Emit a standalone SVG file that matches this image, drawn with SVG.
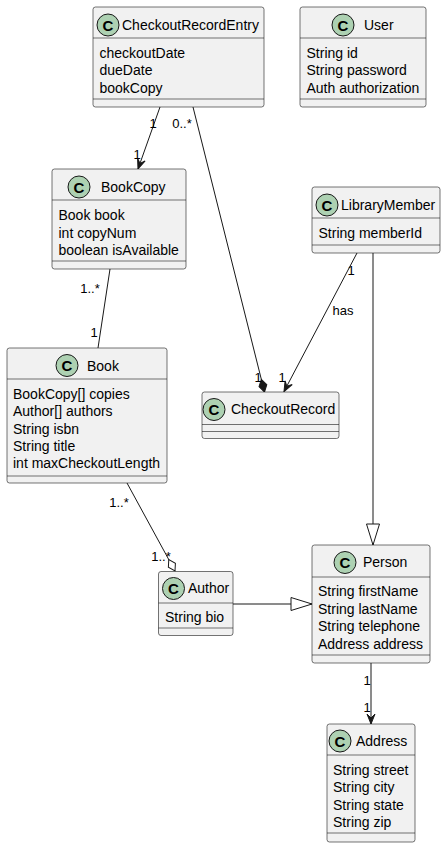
<svg xmlns="http://www.w3.org/2000/svg" width="445" height="849" viewBox="0 0 445 849">
<style>
.box{fill:#F1F1F1;stroke:#181818;stroke-width:0.6}
.div{stroke:#181818;stroke-width:0.6}
.ci{fill:#ADD1B2;stroke:#181818;stroke-width:1}
.cl{font-family:"Liberation Sans",Arial,sans-serif;font-size:15px;font-weight:bold;fill:#000;text-anchor:middle}
.t{font-family:"Liberation Sans",Arial,sans-serif;font-size:14px;fill:#000}
.lb{font-family:"Liberation Sans",Arial,sans-serif;font-size:13px;fill:#000;text-anchor:middle}
.ln{fill:none;stroke:#181818;stroke-width:1}
</style>
<defs>
<marker id="arr" markerUnits="userSpaceOnUse" orient="auto" overflow="visible" markerWidth="12" markerHeight="10" refX="0" refY="0">
<polygon points="0,0 -10,-4 -6,0 -10,4" fill="#181818" stroke="#181818" stroke-width="1"/>
</marker>
<marker id="tri" markerUnits="userSpaceOnUse" orient="auto" overflow="visible" markerWidth="22" markerHeight="14" refX="0" refY="0">
<polygon points="0,0 -21,-6.5 -21,6.5" fill="#FFFFFF" stroke="#181818" stroke-width="1"/>
</marker>
<marker id="dia" markerUnits="userSpaceOnUse" orient="auto" overflow="visible" markerWidth="14" markerHeight="10" refX="0" refY="0">
<polygon points="0,0 -6.5,-4 -13,0 -6.5,4" fill="#181818" stroke="#181818" stroke-width="1"/>
</marker>
<marker id="odia" markerUnits="userSpaceOnUse" orient="auto" overflow="visible" markerWidth="14" markerHeight="10" refX="0" refY="0">
<polygon points="0,0 -6.5,-4 -13,0 -6.5,4" fill="#FFFFFF" stroke="#181818" stroke-width="1"/>
</marker>
</defs>

<g id="connectors">
<path class="ln" d="M160,107 L138,169" marker-end="url(#arr)"/>
<path class="ln" d="M193,107 L264.5,392" marker-end="url(#dia)"/>
<path class="ln" d="M357,253 L284,391.5" marker-end="url(#arr)"/>
<path class="ln" d="M373,253 L373,545" marker-end="url(#tri)"/>
<path class="ln" d="M110,269 L98,348"/>
<path class="ln" d="M127,483 L175,571" marker-end="url(#odia)"/>
<path class="ln" d="M233,604 L312,604" marker-end="url(#tri)"/>
<path class="ln" d="M371,663 L371,724" marker-end="url(#arr)"/>
<text class="lb" x="153" y="127.5">1</text>
<text class="lb" x="182" y="127.5">0..*</text>
<text class="lb" x="137" y="158.5">1</text>
<text class="lb" x="90" y="292.5">1..*</text>
<text class="lb" x="94" y="336.5">1</text>
<text class="lb" x="258" y="381.5">1</text>
<text class="lb" x="282" y="381.5">1</text>
<text class="lb" x="351" y="274.5">1</text>
<text class="lb" x="343" y="314.5">has</text>
<text class="lb" x="119" y="506.5">1..*</text>
<text class="lb" x="161" y="560.5">1..*</text>
<text class="lb" x="367" y="684.5">1</text>
<text class="lb" x="367" y="711.5">1</text>
</g>

<g id="CheckoutRecordEntry">
<rect class="box" x="93" y="7" width="171" height="100" rx="2.5"/>
<line class="div" x1="93" y1="38" x2="264" y2="38"/>
<line class="div" x1="93" y1="99" x2="264" y2="99"/>
<circle class="ci" cx="108" cy="25" r="11"/>
<text class="cl" x="108" y="30.5">C</text>
<text class="t" x="122" y="29.5">CheckoutRecordEntry</text>
<text class="t" x="99.5" y="57.5">checkoutDate</text>
<text class="t" x="99.5" y="75">dueDate</text>
<text class="t" x="99.5" y="92.5">bookCopy</text>
</g>

<g id="User">
<rect class="box" x="300" y="7" width="126" height="100" rx="2.5"/>
<line class="div" x1="300" y1="38" x2="426" y2="38"/>
<line class="div" x1="300" y1="99" x2="426" y2="99"/>
<circle class="ci" cx="343" cy="25" r="11"/>
<text class="cl" x="343" y="30.5">C</text>
<text class="t" x="364" y="29.5">User</text>
<text class="t" x="306.5" y="57.5">String id</text>
<text class="t" x="306.5" y="75">String password</text>
<text class="t" x="306.5" y="92.5">Auth authorization</text>
</g>

<g id="BookCopy">
<rect class="box" x="52" y="169" width="134" height="100" rx="2.5"/>
<line class="div" x1="52" y1="200" x2="186" y2="200"/>
<line class="div" x1="52" y1="261" x2="186" y2="261"/>
<circle class="ci" cx="79" cy="187" r="11"/>
<text class="cl" x="79" y="192.5">C</text>
<text class="t" x="101" y="191.5">BookCopy</text>
<text class="t" x="58.5" y="220">Book book</text>
<text class="t" x="58.5" y="237.5">int copyNum</text>
<text class="t" x="58.5" y="255">boolean isAvailable</text>
</g>

<g id="Book">
<rect class="box" x="7" y="348" width="160" height="135" rx="2.5"/>
<line class="div" x1="7" y1="379" x2="167" y2="379"/>
<line class="div" x1="7" y1="476" x2="167" y2="476"/>
<circle class="ci" cx="67" cy="365.5" r="11"/>
<text class="cl" x="67" y="371">C</text>
<text class="t" x="87" y="370.5">Book</text>
<text class="t" x="13" y="399">BookCopy[] copies</text>
<text class="t" x="13" y="416.3">Author[] authors</text>
<text class="t" x="13" y="433.6">String isbn</text>
<text class="t" x="13" y="450.9">String title</text>
<text class="t" x="13" y="468.2">int maxCheckoutLength</text>
</g>

<g id="LibraryMember">
<rect class="box" x="312" y="187" width="128" height="66" rx="2.5"/>
<line class="div" x1="312" y1="218" x2="440" y2="218"/>
<line class="div" x1="312" y1="245" x2="440" y2="245"/>
<circle class="ci" cx="327" cy="205" r="11"/>
<text class="cl" x="327" y="210.5">C</text>
<text class="t" x="341" y="209.5">LibraryMember</text>
<text class="t" x="318.5" y="237.5">String memberId</text>
</g>

<g id="CheckoutRecord">
<rect class="box" x="202" y="392" width="137" height="46.5" rx="2.5"/>
<line class="div" x1="202" y1="424.5" x2="339" y2="424.5"/>
<line class="div" x1="202" y1="431.5" x2="339" y2="431.5"/>
<circle class="ci" cx="214" cy="409.5" r="11"/>
<text class="cl" x="214" y="415">C</text>
<text class="t" x="231" y="413.5">CheckoutRecord</text>
</g>

<g id="Person">
<rect class="box" x="312" y="545" width="118" height="118" rx="2.5"/>
<line class="div" x1="312" y1="577" x2="430" y2="577"/>
<line class="div" x1="312" y1="655" x2="430" y2="655"/>
<circle class="ci" cx="345" cy="562.5" r="11"/>
<text class="cl" x="345" y="568">C</text>
<text class="t" x="363" y="567">Person</text>
<text class="t" x="318" y="596">String firstName</text>
<text class="t" x="318" y="613.5">String lastName</text>
<text class="t" x="318" y="631">String telephone</text>
<text class="t" x="318" y="648.5">Address address</text>
</g>

<g id="Author">
<rect class="box" x="158.5" y="571.5" width="74.5" height="64" rx="2.5"/>
<line class="div" x1="158.5" y1="603" x2="233" y2="603"/>
<line class="div" x1="158.5" y1="628" x2="233" y2="628"/>
<circle class="ci" cx="173.5" cy="588.5" r="11"/>
<text class="cl" x="173.5" y="594">C</text>
<text class="t" x="188" y="593">Author</text>
<text class="t" x="165" y="622">String bio</text>
</g>

<g id="Address">
<rect class="box" x="327" y="724" width="88" height="118" rx="2.5"/>
<line class="div" x1="327" y1="755" x2="415" y2="755"/>
<line class="div" x1="327" y1="833" x2="415" y2="833"/>
<circle class="ci" cx="340" cy="741" r="11"/>
<text class="cl" x="340" y="746.5">C</text>
<text class="t" x="356" y="746">Address</text>
<text class="t" x="333" y="774.5">String street</text>
<text class="t" x="333" y="792">String city</text>
<text class="t" x="333" y="809.5">String state</text>
<text class="t" x="333" y="827">String zip</text>
</g>
</svg>
